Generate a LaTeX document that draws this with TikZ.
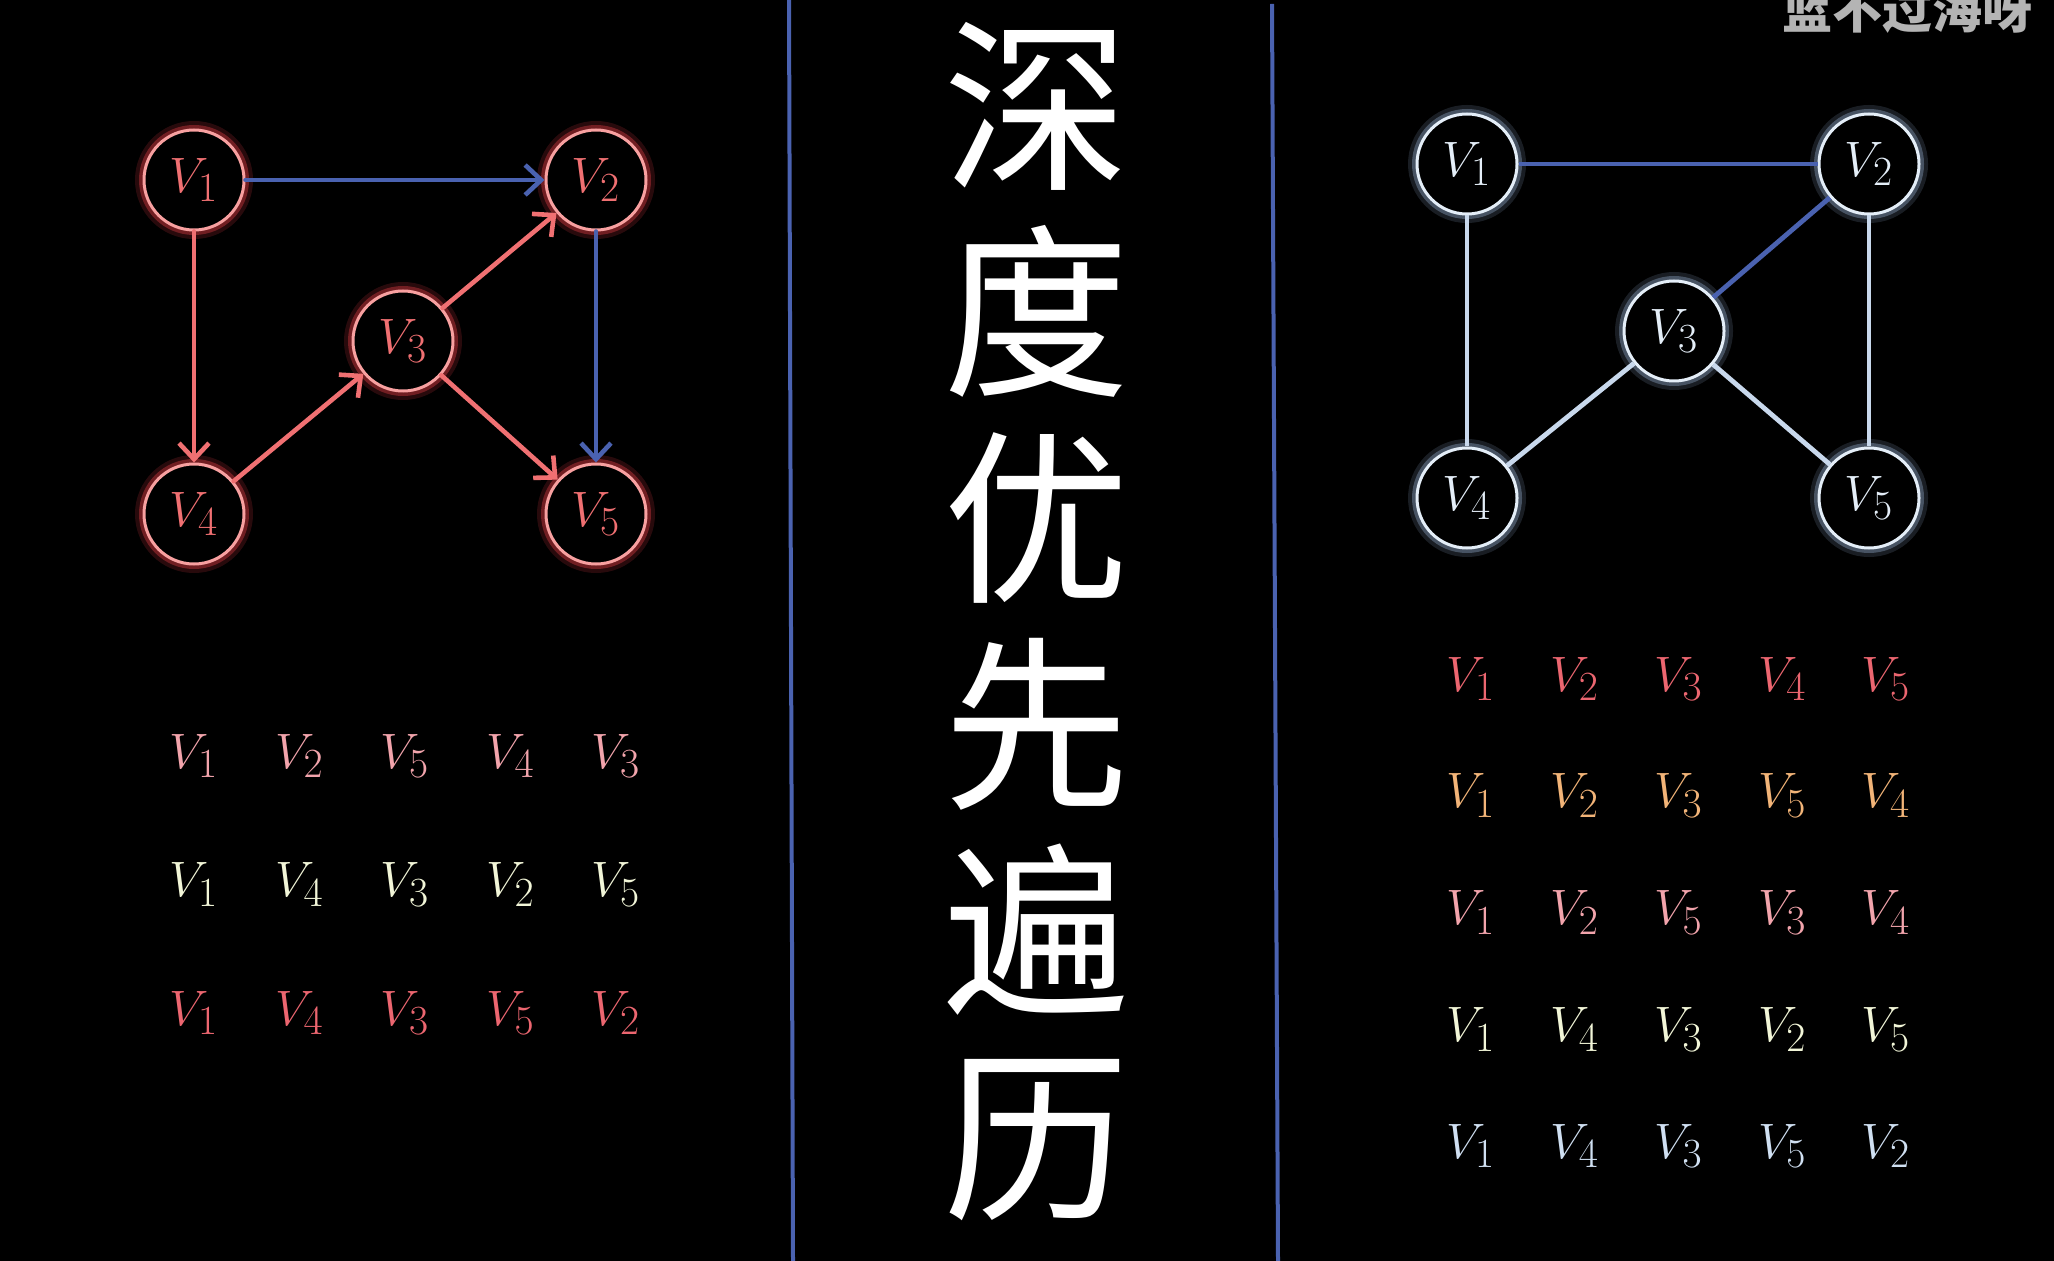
\documentclass[tikz,border=0pt]{standalone}
\usepackage{fontspec}
\newfontfamily\cjk{Noto Sans CJK SC}
\usepackage{xcolor}
\usetikzlibrary{arrows.meta, positioning}

\definecolor{redEdge}{HTML}{F07072}
\definecolor{redRing}{HTML}{F8A0A0}
\definecolor{redGlow}{HTML}{E03C44}
\definecolor{blueEdge}{HTML}{4A62B0}
\definecolor{iceRing}{HTML}{E4EEF8}
\definecolor{iceGlow}{HTML}{8EA6C4}
\definecolor{iceEdge}{HTML}{C8D8EC}
\definecolor{pinkT}{HTML}{F2A4AC}
\definecolor{creamT}{HTML}{F2F6D8}
\definecolor{redT}{HTML}{EC6670}
\definecolor{peachT}{HTML}{F2B478}
\definecolor{iceT}{HTML}{D0E0F2}
\definecolor{markGray}{HTML}{B4B4B4}

\begin{document}
\begin{tikzpicture}[
    x=0.5pt, y=-0.5pt,
    vert/.style={circle, line width=1.5pt, fill=black,
      minimum size=50pt, inner sep=0pt,
      font=\fontsize{29pt}{32pt}\selectfont},
    vertL/.style={vert, draw=redRing, text=redEdge,
      preaction={draw=redGlow, line width=9pt, opacity=0.18},
      preaction={draw=redGlow, line width=5pt, opacity=0.4}},
    vertR/.style={vert, draw=iceRing, text=iceRing,
      preaction={draw=iceGlow, line width=9pt, opacity=0.18},
      preaction={draw=iceGlow, line width=5pt, opacity=0.4}},
    arrow/.style={line width=2.3pt, line cap=round,
      -{Straight Barb[length=8pt, width=15pt, line width=2.3pt]}},
    edge/.style={line width=2.4pt},
    seq/.style={font=\fontsize{30pt}{34pt}\selectfont, inner sep=0pt},
    divider/.style={blueEdge, line width=2pt}
]
\clip (0,0) rectangle (2054,1261);
\fill[black] (0,0) rectangle (2054,1261);

% dividers
\draw[divider] (789,0) -- (793,1261);
\draw[divider] (1272,4) -- (1278,1261);

% title and watermark
\node[text=white, align=center, font=\cjk\fontsize{93pt}{103pt}\selectfont]
  (title) at (1036,622) {深\\度\\优\\先\\遍\\历};
\node[text=markGray, anchor=base, font=\cjk\bfseries\fontsize{25pt}{25pt}\selectfont]
  (mark) at (1907,29) {蓝不过海呀};

% directed graph
\node[vertL]                                          (l1) at (194,180) {$V_1$};
\node[vertL, on grid, right=201pt of l1]              (l2) {$V_2$};
\node[vertL, on grid, below right=80.5pt and 104.5pt of l1] (l3) {$V_3$};
\node[vertL, on grid, below=167pt of l1]              (l4) {$V_4$};
\node[vertL, on grid, right=201pt of l4]              (l5) {$V_5$};
\draw[arrow, blueEdge] (l1) -- (l2);
\draw[arrow, blueEdge] (l2) -- (l5);
\draw[arrow, redEdge]  (l1) -- (l4);
\draw[arrow, redEdge]  (l4) -- (l3);
\draw[arrow, redEdge]  (l3) -- (l2);
\draw[arrow, redEdge]  (l3) -- (l5);

% undirected graph
\node[vertR]                                          (r1) at (1467,164) {$V_1$};
\node[vertR, on grid, right=201pt of r1]              (r2) {$V_2$};
\node[vertR, on grid, below right=83.5pt and 103.5pt of r1] (r3) {$V_3$};
\node[vertR, on grid, below=167pt of r1]              (r4) {$V_4$};
\node[vertR, on grid, right=201pt of r4]              (r5) {$V_5$};
\draw[edge, blueEdge] (r1) -- (r2);
\draw[edge, blueEdge] (r2) -- (r3);
\draw[edge, iceEdge]  (r1) -- (r4);
\draw[edge, iceEdge]  (r2) -- (r5);
\draw[edge, iceEdge]  (r3) -- (r4);
\draw[edge, iceEdge]  (r3) -- (r5);

% traversal orders
\foreach \r/\clr/\order in {0/pinkT/{1,2,5,4,3}, 1/creamT/{1,4,3,2,5},
                             2/redT/{1,4,3,5,2}}
  \foreach \v [count=\c] in \order
    \node[seq, text=\clr] (la-\r-\c) at ({194+(\c-1)*105.5}, {756+\r*128.5}) {$V_{\v}$};

\foreach \r/\clr/\order in {0/redT/{1,2,3,4,5}, 1/peachT/{1,2,3,5,4},
                             2/pinkT/{1,2,5,3,4}, 3/creamT/{1,4,3,2,5},
                             4/iceT/{1,4,3,5,2}}
  \foreach \v [count=\c] in \order
    \node[seq, text=\clr] (ra-\r-\c) at ({1471+(\c-1)*103.75}, {679+\r*116.75}) {$V_{\v}$};
\end{tikzpicture}
\end{document}
